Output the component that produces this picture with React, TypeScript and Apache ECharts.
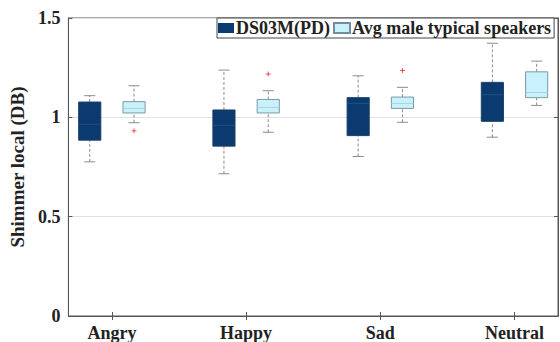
import React, { useEffect, useRef } from "react";
import * as echarts from "echarts";

const categories = ["Angry", "Happy", "Sad", "Neutral"];
const seriesNames = ["DS03M(PD)", "Avg male typical speakers"];
// [min, q1, median, q3, max]
const ds03mStats = [
  [0.776, 0.885, 0.965, 1.077, 1.109],
  [0.716, 0.855, 0.96, 1.037, 1.238],
  [0.803, 0.908, 1.07, 1.099, 1.209],
  [0.9, 0.98, 1.114, 1.176, 1.373],
];
const avgMaleStats = [
  [0.973, 1.022, 1.045, 1.079, 1.159],
  [0.925, 1.022, 1.05, 1.09, 1.134],
  [0.975, 1.045, 1.07, 1.102, 1.151],
  [1.06, 1.099, 1.125, 1.229, 1.283],
];
// [category index, value]
const avgMaleOutliers = [
  [0, 0.932],
  [1, 1.218],
  [2, 1.236],
];
const yTicks = [0, 0.5, 1, 1.5];

const FONT = "'Liberation Serif', 'Times New Roman', serif";
const OFFSET = 0.165;
const BOX_W = 0.165;

function makeRender(fill: string, border: string, median: string) {
  return (params: any, api: any) => {
    const x = api.value(0);
    const mn = api.coord([x, api.value(1)]);
    const q1 = api.coord([x, api.value(2)]);
    const md = api.coord([x, api.value(3)]);
    const q3 = api.coord([x, api.value(4)]);
    const mx = api.coord([x, api.value(5)]);
    const w = api.size([BOX_W, 0])[0];
    const cx = mn[0];
    const capW = w / 2;
    const wh = { stroke: "#8c8c8c", lineWidth: 1, lineDash: [3, 2] };
    const cap = { stroke: "#8c8c8c", lineWidth: 1 };
    return {
      type: "group",
      children: [
        { type: "line", shape: { x1: cx, y1: q3[1], x2: cx, y2: mx[1] }, style: wh },
        { type: "line", shape: { x1: cx, y1: mn[1], x2: cx, y2: q1[1] }, style: wh },
        { type: "line", shape: { x1: cx - capW / 2, y1: mx[1], x2: cx + capW / 2, y2: mx[1] }, style: cap },
        { type: "line", shape: { x1: cx - capW / 2, y1: mn[1], x2: cx + capW / 2, y2: mn[1] }, style: cap },
        {
          type: "rect",
          shape: { x: cx - w / 2, y: q3[1], width: w, height: q1[1] - q3[1] },
          style: { fill, stroke: border, lineWidth: 1 },
        },
        { type: "line", shape: { x1: cx - w / 2, y1: md[1], x2: cx + w / 2, y2: md[1] }, style: { stroke: median, lineWidth: 1 } },
      ],
    };
  };
}

export default function App() {
  const ref = useRef<HTMLDivElement>(null);
  useEffect(() => {
    if (!ref.current) return;
    const chart = echarts.init(ref.current, undefined, { renderer: "svg" });
    const dsData = ds03mStats.map((s, i) => [i + 1 - OFFSET, ...s]);
    const avgData = avgMaleStats.map((s, i) => [i + 1 + OFFSET, ...s]);
    const outData = avgMaleOutliers.map(([i, v]) => [i + 1 + OFFSET, v]);
    const catTicks = categories.map((_, i) => i + 1);
    const labelStyle = { fontFamily: FONT, fontWeight: "bold" as const, fontSize: 18, color: "#222" };
    chart.setOption({
      animation: false,
      backgroundColor: "#fff",
      grid: { left: 63, right: 2, top: 18, bottom: 25, show: true, borderColor: "#555", borderWidth: 1, backgroundColor: "transparent" },
      legend: {
        orient: "horizontal",
        left: 217,
        top: 18,
        width: 400,
        padding: [1, 3, 1, 1],
        itemGap: 3,
        itemWidth: 16,
        itemHeight: 10,
        borderColor: "#444",
        borderWidth: 1,
        backgroundColor: "#fff",
        icon: "rect",
        data: seriesNames,
        textStyle: { ...labelStyle, fontSize: 18, padding: [0, 0, 0, -3] },
      },
      xAxis: [
        {
          type: "value",
          min: 0.676,
          max: 4.324,
          axisLine: { show: true, lineStyle: { color: "#555" } },
          axisTick: { show: true, inside: true, length: 4, customValues: catTicks, lineStyle: { color: "#555" } },
          axisLabel: {
            customValues: catTicks,
            formatter: (v: number) => categories[Math.round(v) - 1] ?? "",
            ...labelStyle,
            margin: 8,
          },
          splitLine: { show: false },
        },
        {
          type: "value",
          position: "top",
          min: 0.676,
          max: 4.324,
          axisLine: { show: true, lineStyle: { color: "#555" } },
          axisTick: { show: true, inside: true, length: 4, customValues: catTicks, lineStyle: { color: "#555" } },
          axisLabel: { show: false },
          splitLine: { show: false },
        },
      ],
      yAxis: [
        {
          type: "value",
          min: 0,
          max: 1.5,
          interval: 0.5,
          name: "Shimmer local (DB)",
          nameLocation: "middle",
          nameGap: 25,
          nameTextStyle: { ...labelStyle, fontSize: 19 },
          axisLine: { show: true, lineStyle: { color: "#555" } },
          axisTick: { show: true, inside: true, length: 4, lineStyle: { color: "#555" } },
          axisLabel: { ...labelStyle, margin: 8, formatter: (v: number) => (yTicks.includes(v) ? String(v) : "") },
          splitLine: { show: true, lineStyle: { color: "#e2e2e2" } },
        },
        {
          type: "value",
          position: "right",
          min: 0,
          max: 1.5,
          interval: 0.5,
          axisLine: { show: true, lineStyle: { color: "#555" } },
          axisTick: { show: true, inside: true, length: 4, lineStyle: { color: "#555" } },
          axisLabel: { show: false },
          splitLine: { show: false },
        },
      ],
      series: [
        {
          name: seriesNames[0],
          type: "custom",
          xAxisIndex: 0,
          yAxisIndex: 0,
          itemStyle: { color: "#0b3a70", borderColor: "#0b3a70" },
          renderItem: makeRender("#0b3a70", "#1d3f66", "#24507f"),
          encode: { x: 0, y: [1, 2, 3, 4, 5] },
          data: dsData,
        },
        {
          name: seriesNames[1],
          type: "custom",
          xAxisIndex: 0,
          yAxisIndex: 0,
          itemStyle: { color: "#c9f1fb", borderColor: "#6f8fa0", borderWidth: 1 },
          renderItem: makeRender("#c9f1fb", "#7a98a8", "#b0d0dc"),
          encode: { x: 0, y: [1, 2, 3, 4, 5] },
          data: avgData,
        },
        {
          name: "outliers",
          type: "scatter",
          xAxisIndex: 0,
          yAxisIndex: 0,
          symbol: "path://M0,5L10,5M5,0L5,10",
          symbolSize: 5,
          itemStyle: { color: "none", borderColor: "#e03030", borderWidth: 1 },
          data: outData,
        },
      ],
    });
    return () => chart.dispose();
  }, []);
  return <div ref={ref} style={{ width: 560, height: 342, position: "absolute", left: 0, top: 0 }} />;
}
